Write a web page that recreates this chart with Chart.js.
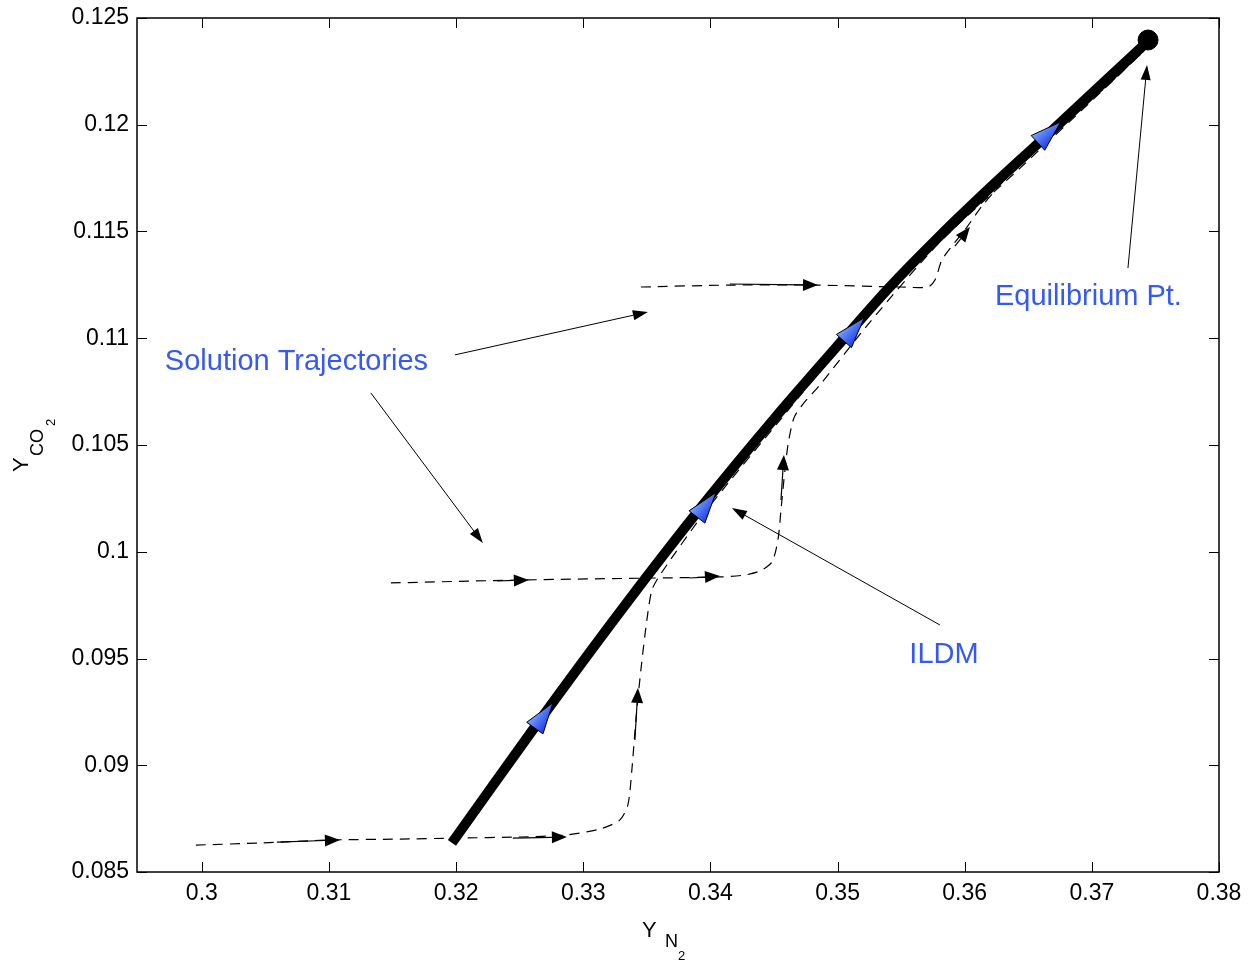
<!DOCTYPE html>
<html>
<head>
<meta charset="utf-8">
<script src="https://cdn.jsdelivr.net/npm/chart.js@4.4.0/dist/chart.umd.min.js"></script>
<style>
body { margin: 0; background: #fff; }
#wrap { width: 1255px; height: 964px; }
</style>
</head>
<body>
<div id="wrap"><canvas id="chart" width="1255" height="964"></canvas></div>
<script>
/*-------------------------------------------------------------------------*/
// Data
/*-------------------------------------------------------------------------*/
var xTicks = [0.3, 0.31, 0.32, 0.33, 0.34, 0.35, 0.36, 0.37, 0.38];
var yTicks = [0.085, 0.09, 0.095, 0.1, 0.105, 0.11, 0.115, 0.12, 0.125];

// ILDM (thick line)
var ildmX = [0.31967, 0.32619, 0.33288, 0.33941, 0.34507, 0.35089, 0.35404, 0.35805, 0.36199, 0.36616, 0.37442];
var ildmY = [0.08636, 0.09179, 0.09718, 0.10219, 0.10627, 0.11025, 0.11236, 0.11480, 0.11705, 0.11934, 0.12392];

// solution trajectories (dashed)
var traj1X = [0.29953, 0.30456, 0.31007, 0.31558, 0.31998, 0.32501, 0.32855, 0.33131, 0.33288, 0.33351, 0.33382, 0.33414, 0.33453, 0.33500, 0.33540, 0.33603, 0.33957, 0.34547, 0.35137, 0.35805, 0.36435, 0.37064, 0.37418];
var traj1Y = [0.08626, 0.08636, 0.08650, 0.08654, 0.08659, 0.08664, 0.08673, 0.08701, 0.08744, 0.08814, 0.08978, 0.09212, 0.09446, 0.09680, 0.09821, 0.09891, 0.10186, 0.10617, 0.11039, 0.11474, 0.11811, 0.12163, 0.12359];

var traj2X = [0.31487, 0.32541, 0.33563, 0.34075, 0.34271, 0.34389, 0.34484, 0.34531, 0.34555, 0.34578, 0.34610, 0.34657, 0.34728, 0.34861, 0.35255, 0.35805, 0.36435, 0.37064, 0.37402];
var traj2Y = [0.09854, 0.09868, 0.09877, 0.09882, 0.09891, 0.09910, 0.09952, 0.10055, 0.10196, 0.10336, 0.10500, 0.10627, 0.10692, 0.10781, 0.11076, 0.11451, 0.11797, 0.12149, 0.12341];

var traj3X = [0.33453, 0.34153, 0.34822, 0.35491, 0.35711, 0.35766, 0.35821, 0.35900, 0.36018, 0.36136, 0.36332, 0.36435, 0.36749, 0.37064, 0.37402];
var traj3Y = [0.11240, 0.11249, 0.11249, 0.11240, 0.11240, 0.11273, 0.11367, 0.11432, 0.11521, 0.11619, 0.11755, 0.11821, 0.11989, 0.12153, 0.12341];

// equilibrium point
var eqX = [0.37442];
var eqY = [0.12397];

// blue direction markers on the ILDM (base of arrowhead)
var markX = [0.32619, 0.33894, 0.35050, 0.36576];
var markY = [0.09174, 0.10163, 0.10987, 0.11915];

// small arrows on trajectories: tail -> tip
var flowTailX = [0.30590, 0.32446, 0.33406, 0.32321, 0.33839, 0.34555, 0.34153, 0.35923];
var flowTailY = [0.08640, 0.08659, 0.09118, 0.09863, 0.09877, 0.10242, 0.11254, 0.11432];
var flowTipX  = [0.31086, 0.32871, 0.33430, 0.32572, 0.34075, 0.34578, 0.34846, 0.36041];
var flowTipY  = [0.08650, 0.08664, 0.09362, 0.09868, 0.09886, 0.10453, 0.11249, 0.11521];

// annotation arrows: tail -> tip
var noteTailX = [0.31990, 0.31329, 0.35805, 0.37284];
var noteTailY = [0.10922, 0.10744, 0.09657, 0.11329];
var noteTipX  = [0.33508, 0.32210, 0.34169, 0.37434];
var noteTipY  = [0.11123, 0.10041, 0.10205, 0.12280];

// annotation labels
var labelText  = ['Solution Trajectories', 'ILDM', 'Equilibrium Pt.'];
var labelX     = [0.29709, 0.35837, 0.36238];
var labelY     = [0.10889, 0.09516, 0.11193];
var labelAlign = ['left', 'center', 'left'];

/*-------------------------------------------------------------------------*/
// Helpers
/*-------------------------------------------------------------------------*/
var FONT = '"Liberation Sans", Arial, Helvetica, sans-serif';
var BLUE = '#3559f4';

function toPoints(xs, ys) {
	return xs.map(function(x, i) { return { x: x, y: ys[i] }; });
}

function fmtTick(v) {
	return String(+v.toFixed(3));
}

function drawArrow(ctx, x0, y0, x1, y1, headLen, headW, lineW) {
	var ang = Math.atan2(y1 - y0, x1 - x0);
	var bx = x1 - headLen * Math.cos(ang);
	var by = y1 - headLen * Math.sin(ang);
	ctx.save();
	ctx.strokeStyle = '#000';
	ctx.fillStyle = '#000';
	ctx.lineWidth = lineW;
	ctx.beginPath();
	ctx.moveTo(x0, y0);
	ctx.lineTo(bx, by);
	ctx.stroke();
	ctx.beginPath();
	ctx.moveTo(x1, y1);
	ctx.lineTo(bx + headW * Math.sin(ang), by - headW * Math.cos(ang));
	ctx.lineTo(bx - headW * Math.sin(ang), by + headW * Math.cos(ang));
	ctx.closePath();
	ctx.fill();
	ctx.restore();
}

// direction of the ILDM (in pixels) near a given x value
function ildmAngle(xs, ys, x) {
	var i = 0;
	while (i < ildmX.length - 2 && ildmX[i + 1] < x) i++;
	var ax = xs.getPixelForValue(ildmX[i]), ay = ys.getPixelForValue(ildmY[i]);
	var bx = xs.getPixelForValue(ildmX[i + 1]), by = ys.getPixelForValue(ildmY[i + 1]);
	return Math.atan2(by - ay, bx - ax);
}

/*-------------------------------------------------------------------------*/
// Plugins
/*-------------------------------------------------------------------------*/
var boxPlugin = {
	id: 'boxPlugin',
	afterDatasetsDraw: function(chart) {
		var ctx = chart.ctx, a = chart.chartArea;
		var xs = chart.scales.x, ys = chart.scales.y;
		var tick = 10;
		ctx.save();
		ctx.strokeStyle = '#000';
		ctx.lineWidth = 1.5;
		ctx.strokeRect(a.left, a.top, a.right - a.left, a.bottom - a.top);
		ctx.lineWidth = 1;
		ctx.beginPath();
		xTicks.forEach(function(v) {
			var px = Math.round(xs.getPixelForValue(v)) + 0.5;
			ctx.moveTo(px, a.bottom); ctx.lineTo(px, a.bottom - tick);
			ctx.moveTo(px, a.top); ctx.lineTo(px, a.top + tick);
		});
		yTicks.forEach(function(v) {
			var py = Math.round(ys.getPixelForValue(v)) + 0.5;
			ctx.moveTo(a.left, py); ctx.lineTo(a.left + tick, py);
			ctx.moveTo(a.right, py); ctx.lineTo(a.right - tick, py);
		});
		ctx.stroke();
		ctx.restore();
	}
};

var notePlugin = {
	id: 'notePlugin',
	afterDatasetsDraw: function(chart) {
		var ctx = chart.ctx;
		var xs = chart.scales.x, ys = chart.scales.y;
		var i;

		// flow arrows on the trajectories
		for (i = 0; i < flowTipX.length; i++) {
			drawArrow(ctx, xs.getPixelForValue(flowTailX[i]), ys.getPixelForValue(flowTailY[i]),
				xs.getPixelForValue(flowTipX[i]), ys.getPixelForValue(flowTipY[i]), 15, 6, 1.2);
		}
		// annotation arrows
		for (i = 0; i < noteTipX.length; i++) {
			drawArrow(ctx, xs.getPixelForValue(noteTailX[i]), ys.getPixelForValue(noteTailY[i]),
				xs.getPixelForValue(noteTipX[i]), ys.getPixelForValue(noteTipY[i]), 15, 5, 1);
		}
		// blue arrowheads on the ILDM
		for (i = 0; i < markX.length; i++) {
			var bx = xs.getPixelForValue(markX[i]), by = ys.getPixelForValue(markY[i]);
			var ang = ildmAngle(xs, ys, markX[i]);
			var len = 31, hw = 10;
			var tx = bx + len * Math.cos(ang), ty = by + len * Math.sin(ang);
			var c1x = bx + hw * Math.sin(ang), c1y = by - hw * Math.cos(ang);
			var c2x = bx - hw * Math.sin(ang), c2y = by + hw * Math.cos(ang);
			var grad = ctx.createLinearGradient(c1x, c1y, c2x, c2y);
			grad.addColorStop(0, '#7aa6ff');
			grad.addColorStop(1, '#1c38e6');
			ctx.save();
			ctx.beginPath();
			ctx.moveTo(tx, ty);
			ctx.lineTo(c1x, c1y);
			ctx.lineTo(c2x, c2y);
			ctx.closePath();
			ctx.fillStyle = grad;
			ctx.fill();
			ctx.strokeStyle = '#000';
			ctx.lineWidth = 1;
			ctx.stroke();
			ctx.restore();
		}
		// text labels
		ctx.save();
		ctx.font = '29px ' + FONT;
		ctx.fillStyle = BLUE;
		ctx.textBaseline = 'middle';
		for (i = 0; i < labelText.length; i++) {
			ctx.textAlign = labelAlign[i];
			ctx.fillText(labelText[i], xs.getPixelForValue(labelX[i]), ys.getPixelForValue(labelY[i]));
		}
		ctx.restore();
	}
};

// axis titles with sub / sub-sub scripts
var titlePlugin = {
	id: 'titlePlugin',
	afterDraw: function(chart) {
		var ctx = chart.ctx, a = chart.chartArea;
		var cx = (a.left + a.right) / 2;
		var cy = (a.top + a.bottom) / 2;
		ctx.save();
		ctx.fillStyle = '#000';
		ctx.textBaseline = 'alphabetic';
		ctx.textAlign = 'left';
		// x title: Y_{N_2}
		ctx.font = '22px ' + FONT;
		ctx.fillText('Y', cx - 36, 937);
		ctx.font = '18px ' + FONT;
		ctx.fillText('N', cx - 13, 947);
		ctx.font = '13px ' + FONT;
		ctx.fillText('2', cx, 960);
		// y title: Y_{CO_2}
		ctx.translate(28, cy + 27);
		ctx.rotate(-Math.PI / 2);
		ctx.font = '22px ' + FONT;
		ctx.fillText('Y', 0, 0);
		ctx.font = '18px ' + FONT;
		ctx.fillText('CO', 16, 15);
		ctx.font = '13px ' + FONT;
		ctx.fillText('2', 46, 27);
		ctx.restore();
	}
};

/*-------------------------------------------------------------------------*/
// Chart
/*-------------------------------------------------------------------------*/
Chart.defaults.font.family = FONT;
Chart.defaults.color = '#000';

function trajDataset(xs, ys) {
	return {
		data: toPoints(xs, ys),
		showLine: true,
		borderColor: '#000',
		borderWidth: 1.2,
		borderDash: [10, 7],
		pointRadius: 0,
		tension: 0.25,
		order: 2
	};
}

var chart = new Chart(document.getElementById('chart'), {
	type: 'scatter',
	data: {
		datasets: [
			{
				data: toPoints(eqX, eqY),
				pointRadius: 10,
				pointBackgroundColor: '#000',
				pointBorderColor: '#000',
				order: 0
			},
			{
				data: toPoints(ildmX, ildmY),
				showLine: true,
				borderColor: '#000',
				borderWidth: 10,
				pointRadius: 0,
				tension: 0.3,
				order: 1
			},
			trajDataset(traj1X, traj1Y),
			trajDataset(traj2X, traj2Y),
			trajDataset(traj3X, traj3Y)
		]
	},
	options: {
		responsive: false,
		animation: false,
		layout: { padding: { left: 0, top: 18, right: 36, bottom: 0 } },
		plugins: {
			legend: { display: false },
			tooltip: { enabled: false }
		},
		scales: {
			x: {
				type: 'linear',
				min: 0.2949,
				max: 0.38,
				grid: { display: false, drawTicks: false },
				border: { display: false },
				ticks: { font: { size: 23 }, padding: 8, callback: fmtTick },
				afterBuildTicks: function(scale) {
					scale.ticks = xTicks.map(function(v) { return { value: v }; });
				},
				afterFit: function(scale) { scale.height = 92; }
			},
			y: {
				type: 'linear',
				min: 0.085,
				max: 0.125,
				grid: { display: false, drawTicks: false },
				border: { display: false },
				// small lineHeight keeps the top label from pushing the plot down
				ticks: { font: { size: 23, lineHeight: 0.7 }, padding: 8, callback: fmtTick },
				afterBuildTicks: function(scale) {
					scale.ticks = yTicks.map(function(v) { return { value: v }; });
				},
				afterFit: function(scale) { scale.width = 137; }
			}
		}
	},
	plugins: [boxPlugin, notePlugin, titlePlugin]
});
</script>
</body>
</html>
